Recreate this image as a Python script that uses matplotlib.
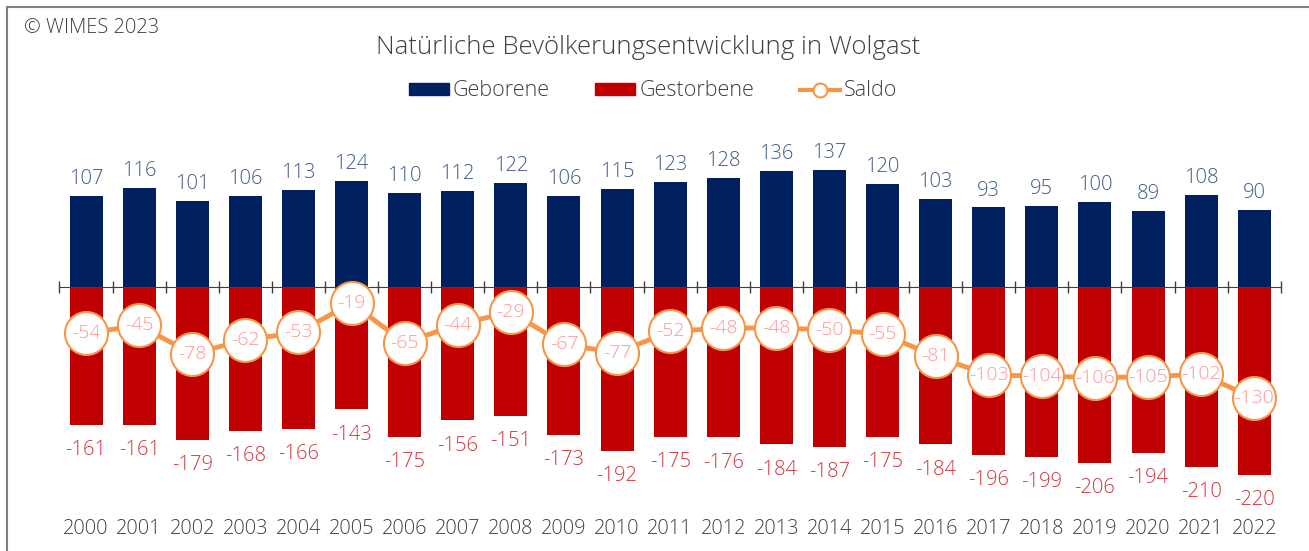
import numpy as np
import matplotlib.pyplot as plt
from matplotlib.patches import Rectangle
from matplotlib.lines import Line2D
from matplotlib.patches import Patch

plt.rcParams['font.family'] = ['Open Sans', 'DejaVu Sans']
plt.rcParams['font.weight'] = 'light'

years = list(range(2000, 2023))
geborene = [107, 116, 101, 106, 113, 124, 110, 112, 122, 106, 115, 123, 128, 136, 137,
            120, 103, 93, 95, 100, 89, 108, 90]
gestorbene = [-161, -161, -179, -168, -166, -143, -175, -156, -151, -173, -192, -175, -176,
              -184, -187, -175, -184, -196, -199, -206, -194, -210, -220]
saldo = [-54, -45, -78, -62, -53, -19, -65, -44, -29, -67, -77, -52, -48, -48, -50, -55,
         -81, -103, -104, -106, -105, -102, -130]

c_geb = "#002060"
c_gest = "#C00000"
c_saldo = "#F79646"

W, H = 1309, 551
fig = plt.figure(figsize=(W / 100, H / 100), dpi=100)
ax = fig.add_axes([0, 0, 1, 1])

# pixel mapping: category 0 at x=86, step 53.1 px; value 0 at y=287, 0.855 px per unit
step = 53.1
x0 = 86
ppu = 0.855
ax.set_xlim(-x0 / step, (W - x0) / step)
ax.set_ylim(-(H - 287) / ppu, 287 / ppu)

x = np.arange(len(years))
bw = 33 / step
ax.bar(x, geborene, width=bw, color=c_geb, zorder=2)
ax.bar(x, gestorbene, width=bw, color=c_gest, zorder=2)

# baseline with ticks between categories
for s in ['top', 'right', 'left']:
    ax.spines[s].set_visible(False)
ax.spines['bottom'].set_position(('data', 0))
ax.spines['bottom'].set_bounds(-0.5, len(years) - 0.5)
ax.spines['bottom'].set_color("#404040")
ax.spines['bottom'].set_zorder(3)
ax.set_yticks([])
ax.set_xticks(np.arange(-0.5, len(years), 1.0))
ax.tick_params(axis='x', direction='inout', length=9, width=1, color="#404040", labelbottom=False)

ax.plot(x, saldo, color=c_saldo, lw=3.5, marker='o', ms=31, mfc='white', mec=c_saldo,
        mew=1.5, zorder=4)

for i in range(len(years)):
    ax.annotate(str(geborene[i]), (x[i], geborene[i]), xytext=(0, 5), textcoords='offset points',
                ha='center', va='bottom', fontsize=14.5, color="#3F5A85")
    ax.annotate(str(gestorbene[i]), (x[i], gestorbene[i]), xytext=(0, -11), textcoords='offset points',
                ha='center', va='top', fontsize=14.5, color="#D0353D")
    ax.text(x[i], saldo[i], str(saldo[i]), ha='center', va='center', fontsize=14,
            color="#FF9696", zorder=5)
    ax.text(x[i], -(529 - 287) / ppu, str(years[i]), ha='center', va='center',
            fontsize=14.3, color="#404040")

fig.text(648 / W, 1 - 47 / H, "Natürliche Bevölkerungsentwicklung in Wolgast", ha='center',
         va='center', fontsize=18.5, color="#404040")
fig.text(24 / W, 1 - 28 / H, "© WIMES 2023", ha='left', va='center', fontsize=14.5, color="#404040")

handles = [Patch(color=c_geb), Patch(color=c_gest),
           Line2D([], [], color=c_saldo, lw=3, marker='o', ms=10, mfc='white', mec=c_saldo, mew=1.5)]
fig.legend(handles, ["Geborene", "Gestorbene", "Saldo"], loc='center', bbox_to_anchor=(653 / W, 1 - 91 / H),
           ncol=3, frameon=False, fontsize=15.5, handlelength=1.86, handleheight=0.5, handletextpad=0.19,
           columnspacing=2.1, labelcolor="#404040")

fig.patches.append(Rectangle((7 / W, -0.01), 1.02, 1 - 7 / H + 0.01, transform=fig.transFigure,
                             fill=False, edgecolor="#808080", lw=1.5))

fig.savefig("out.png", dpi=100)
